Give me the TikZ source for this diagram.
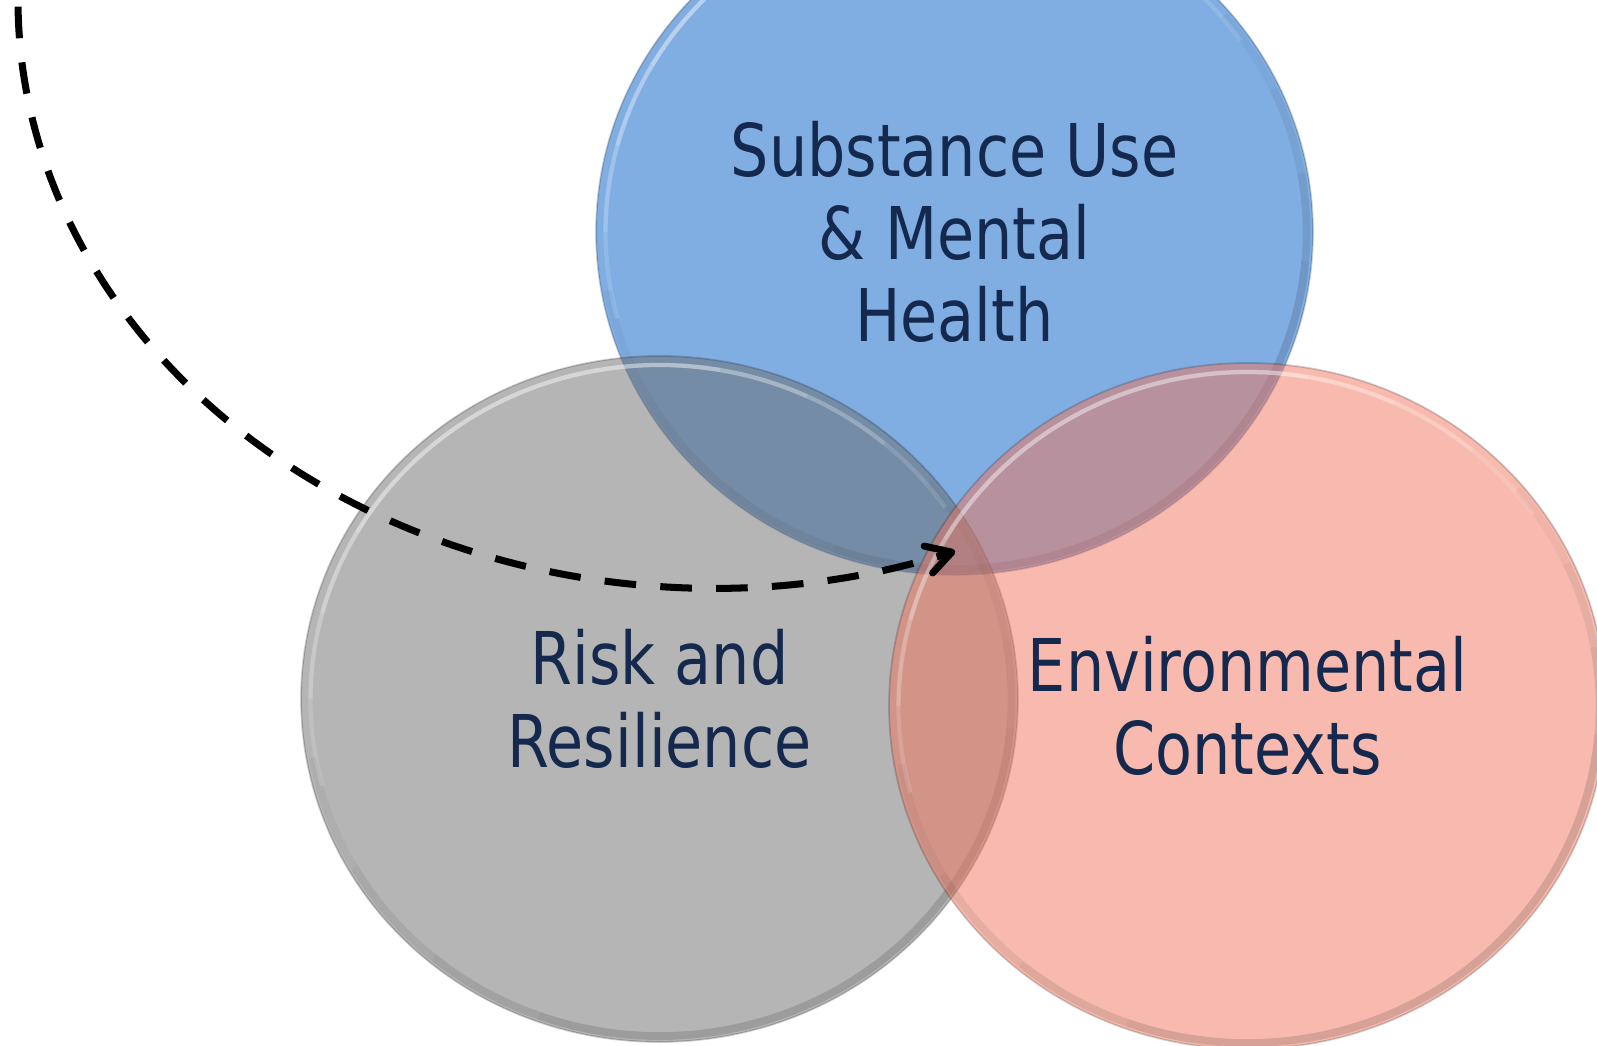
\documentclass[tikz,border=0pt]{standalone}
\usepackage{fontspec}
\setmainfont{DejaVu Sans}[FakeStretch=0.83]
\usetikzlibrary{arrows.meta,shapes.geometric}
\definecolor{cSub}{HTML}{015DC7}
\definecolor{cRisk}{HTML}{6B6B6B}
\definecolor{cEnv}{HTML}{F1755D}
\definecolor{cInk}{HTML}{14294D}

\begin{document}
\begin{tikzpicture}[
  disc/.style={ellipse,minimum width=7.17cm,minimum height=6.86cm,inner sep=0pt,
    fill=#1,fill opacity=0.5,text opacity=1,
    draw=black,draw opacity=0.18,line width=0.5pt,
    text=cInk,align=center,font=\fontsize{20.7}{23.5}\selectfont,
    path picture={
      % glossy rim: light band on top, shade below (several passes so the ends fade)
      \foreach \a/\b in {35/195,50/180,65/165,80/150}
        \draw[white,opacity=0.14,line width=1.2pt]
          (path picture bounding box.center) ++(\a:3.49cm and 3.34cm)
          arc[start angle=\a,end angle=\b,x radius=3.49cm,y radius=3.34cm];
      \foreach \a/\b in {190/400,210/385,230/370,250/355}
        \draw[black,opacity=0.035,line width=2.2pt]
          (path picture bounding box.center) ++(\a:3.52cm and 3.37cm)
          arc[start angle=\a,end angle=\b,x radius=3.52cm,y radius=3.37cm];
    }},
  flow/.style={dash pattern=on 9pt off 6.9pt,dash phase=14pt,line width=2pt,
    -{Straight Barb[round,length=7pt,width=8pt]}},
]
\useasboundingbox (0,0) rectangle (15.97,-10.46);

% ============================================================ the three discs
\node[disc=cSub]  (sub)  at (9.545,-2.32) {Substance Use\\\& Mental\\Health};
\node[disc=cRisk] (risk) at (6.595,-6.99) {Risk and\\Resilience};
\node[disc=cEnv]  (env)  at (12.475,-7.06) {Environmental\\Contexts};

% ============================================================ dashed lead-in
\coordinate (start) at (0.18,0);
\draw[flow] (start) arc[start angle=180,end angle=290.4,x radius=6.95,y radius=5.88];

\end{tikzpicture}
\end{document}
